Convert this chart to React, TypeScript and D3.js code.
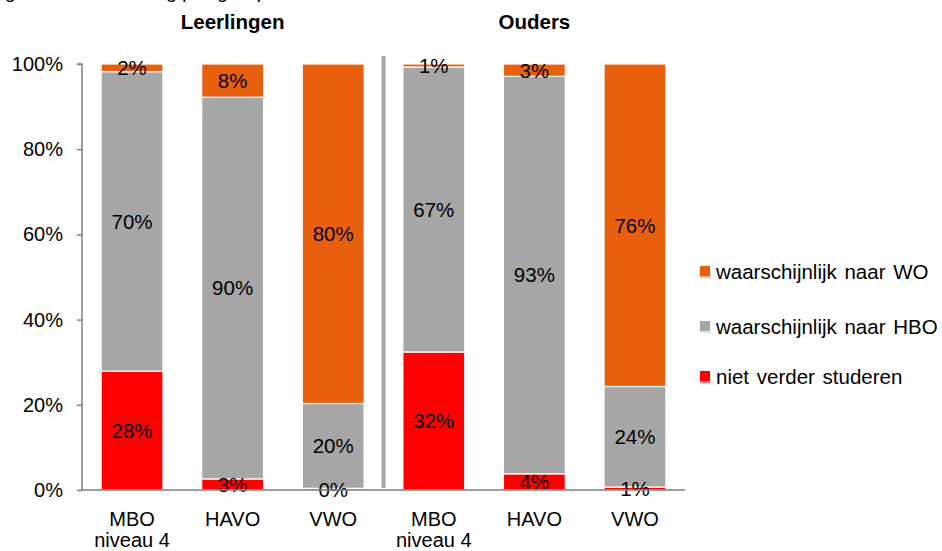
import { useEffect, useRef } from 'react';
import * as d3 from 'd3';

// data
const groups = ['Leerlingen', 'Ouders'];
const categories = ['MBO\nniveau 4', 'HAVO', 'VWO'];
const seriesNames = ['niet verder studeren', 'waarschijnlijk naar HBO', 'waarschijnlijk naar WO'];
const seriesColors = ['#FF0000', '#A6A6A6', '#E8600E'];
// order: Leerlingen MBO, HAVO, VWO, Ouders MBO, HAVO, VWO
const nietVerder = [27.9, 2.6, 0.4, 32.4, 3.8, 0.7];
const naarHBO = [70.3, 89.6, 19.9, 66.9, 93.3, 23.6];
const naarWO = [1.8, 7.8, 79.7, 0.7, 2.9, 75.7];
const yTicks = [0, 20, 40, 60, 80, 100];

const W = 942;
const H = 551;
const FONT = 'Arial, "Liberation Sans", sans-serif';

const App = () => {
  const ref = useRef<SVGSVGElement>(null);

  useEffect(() => {
    const svg = d3.select(ref.current);
    svg.selectAll('*').remove();

    const margin = { left: 82, right: 257, top: 64, bottom: 61 };
    const innerH = H - margin.top - margin.bottom;

    const slots = d3.range(groups.length * categories.length).map(String);
    const x = d3.scaleBand().domain(slots).range([margin.left, W - margin.right]).paddingInner(0.385).paddingOuter(0.19);
    const y = d3.scaleLinear().domain([0, 100]).range([margin.top + innerH, margin.top]);

    const rows = slots.map((s, i) => ({ slot: s, a: nietVerder[i], b: naarHBO[i], c: naarWO[i] }));
    const stack = d3.stack<any>().keys(['a', 'b', 'c']);
    const layers = stack(rows);

    // title, cut off at the top edge like in the original
    svg.append('text')
      .attr('x', 6).attr('y', -2)
      .style('font', `italic 20px ${FONT}`)
      .text('grafiek verwachting per groep');

    // group headers
    groups.forEach((g, gi) => {
      const first = x(String(gi * 3))! + x.bandwidth() / 2;
      const last = x(String(gi * 3 + 2))! + x.bandwidth() / 2;
      svg.append('text')
        .attr('x', (first + last) / 2).attr('y', 29)
        .attr('text-anchor', 'middle')
        .style('font', `bold 20.5px ${FONT}`)
        .text(g);
    });

    // bars
    layers.forEach((layer, li) => {
      svg.append('g').selectAll('rect')
        .data(layer)
        .join('rect')
        .attr('x', d => x(d.data.slot)!)
        .attr('width', x.bandwidth())
        .attr('y', d => y(d[1]))
        .attr('height', d => y(d[0]) - y(d[1]))
        .attr('fill', seriesColors[li])
        .attr('stroke', '#fff')
        .attr('stroke-width', 1.2);
    });

    // value labels
    layers.forEach(layer => {
      svg.append('g').selectAll('text')
        .data(layer)
        .join('text')
        .attr('x', d => x(d.data.slot)! + x.bandwidth() / 2)
        .attr('y', d => y((d[0] + d[1]) / 2))
        .attr('dy', '0.36em')
        .attr('text-anchor', 'middle')
        .style('font', `20.5px ${FONT}`)
        .attr('fill', '#000')
        .text(d => d3.format('.0f')(d[1] - d[0]) + '%');
    });

    // separator between groups
    const sepX = (x('2')! + x.bandwidth() + x('3')!) / 2;
    svg.append('line')
      .attr('x1', sepX).attr('x2', sepX)
      .attr('y1', 56).attr('y2', y(0) - 2)
      .attr('stroke', '#A6A6A6').attr('stroke-width', 4);

    // y axis
    const yAxis = svg.append('g')
      .attr('transform', `translate(${margin.left},0)`)
      .call(d3.axisLeft(y).tickValues(yTicks).tickSize(5).tickPadding(14).tickFormat(d => d + '%'));
    yAxis.select('.domain').attr('stroke', '#7F7F7F').attr('stroke-width', 1.5).attr('d', `M-5,${y(100)}H0V${y(0)}`);
    yAxis.selectAll('.tick line').attr('stroke', '#7F7F7F').attr('stroke-width', 1.5);
    yAxis.selectAll('.tick text').style('font', `20px ${FONT}`).attr('fill', '#000');

    // x axis
    svg.append('line')
      .attr('x1', margin.left).attr('x2', W - margin.right)
      .attr('y1', y(0)).attr('y2', y(0))
      .attr('stroke', '#7F7F7F').attr('stroke-width', 1.5);

    slots.forEach((s, i) => {
      const lines = categories[i % categories.length].split('\n');
      lines.forEach((ln, li) => {
        svg.append('text')
          .attr('x', x(s)! + x.bandwidth() / 2)
          .attr('y', y(0) + 36 + li * 21)
          .attr('text-anchor', 'middle')
          .style('font', `20px ${FONT}`)
          .text(ln);
      });
    });

    // legend, top entry is the top of the stack
    const legendOrder = [2, 1, 0];
    const legendY = [272, 327, 377];
    legendOrder.forEach((si, k) => {
      const g = svg.append('g').attr('transform', `translate(700,${legendY[k]})`);
      g.append('rect').attr('x', 0).attr('y', -6).attr('width', 10).attr('height', 10).attr('fill', seriesColors[si]);
      g.append('line').attr('x1', 0).attr('x2', 11).attr('y1', 5).attr('y2', 5)
        .attr('stroke', d3.color(seriesColors[si])!.brighter(0.6).toString()).attr('stroke-width', 1);
      g.append('text')
        .attr('x', 16).attr('y', 0).attr('dy', '0.36em')
        .style('font', `20.5px ${FONT}`)
        .style('word-spacing', '2px')
        .text(seriesNames[si]);
    });
  }, []);

  return (
    <div style={{ position: 'fixed', left: 0, top: 0, width: W, height: H, background: '#fff' }}>
      <svg ref={ref} width={W} height={H} style={{ display: 'block' }} />
    </div>
  );
};

export default App;
